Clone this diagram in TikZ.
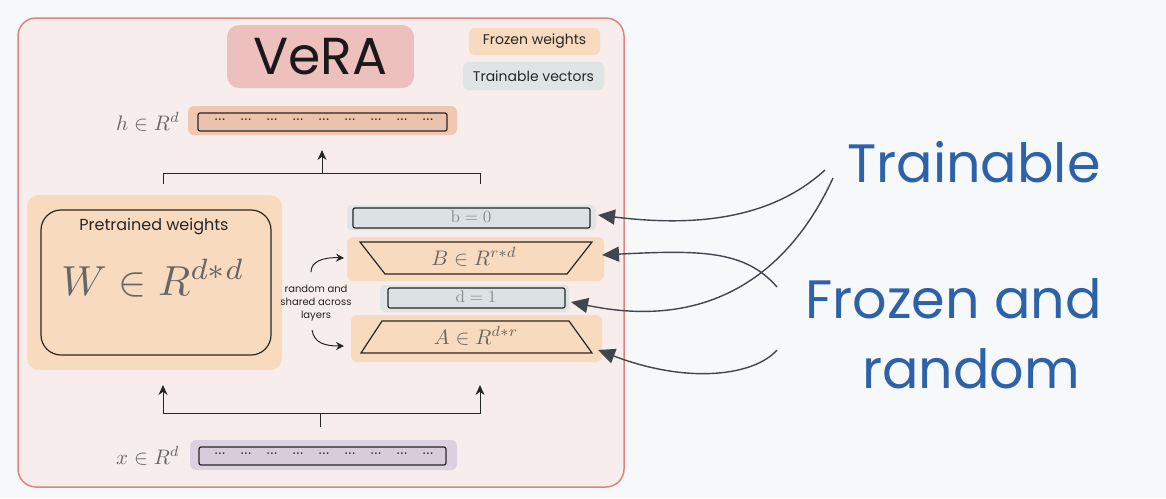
\documentclass[tikz,border=0pt]{standalone}
\usepackage{fontspec}
\newfontfamily\hand{Poppins}
\usetikzlibrary{arrows.meta}
\definecolor{bg}{HTML}{F7F8FA}
\definecolor{panel}{HTML}{F6EDEC}
\definecolor{panelborder}{HTML}{DE8580}
\definecolor{titlefill}{HTML}{EEC0BD}
\definecolor{peach}{HTML}{F8DBBE}
\definecolor{peachhl}{HTML}{F0C8B2}
\definecolor{peachbar}{HTML}{EBC2AC}
\definecolor{grayblue}{HTML}{DFE5E5}
\definecolor{graybar}{HTML}{DCE1E1}
\definecolor{lavhl}{HTML}{DDD0E0}
\definecolor{lavbar}{HTML}{D8CCDA}
\definecolor{inkblue}{HTML}{2D62A8}
\definecolor{arrowgray}{HTML}{40464E}
\definecolor{mathgray}{HTML}{666666}
\definecolor{lightmath}{HTML}{8A8A8A}
\begin{document}
\begin{tikzpicture}[x=1pt,y=-1pt,
  box/.style={inner sep=0pt, outer sep=0pt},
  hl/.style={box, rounded corners=6pt},
  bar/.style={box, draw=black!85, line width=1.2pt, rounded corners=2pt},
  conn/.style={draw=black!85, line width=1pt},
  upar/.style={conn, -{Stealth[length=10pt,width=9pt]}},
  curvar/.style={conn, -{Stealth[length=8pt,width=8pt]}},
  pointer/.style={draw=arrowgray, line width=1.4pt, -{Triangle[length=17pt,width=15pt]}},
  big/.style={text=inkblue, font=\hand\fontsize{54}{60}\selectfont, inner sep=0pt, anchor=base west},
  dots/.style={inner sep=0pt, font=\fontsize{12}{12}\selectfont\bfseries, text=black!85},
  legend/.style={box, rounded corners=5pt, font=\hand\fontsize{14}{16}\selectfont, text=black!85},
  mathlab/.style={inner sep=0pt, text=mathgray, font=\fontsize{10}{12}\selectfont, scale=#1, transform shape},
  lightlab/.style={inner sep=0pt, text=lightmath, font=\fontsize{10}{12}\selectfont, scale=#1, transform shape},
]
\useasboundingbox (0,0) rectangle (1166,498);
\fill[bg] (0,0) rectangle (1166,498);

% panel
\node[box, draw=panelborder, line width=1.5pt, fill=panel, rounded corners=18pt,
      minimum width=606pt, minimum height=469pt] (panel) at (321,252.5) {};

% title and legend
\node[box, fill=titlefill, rounded corners=12pt, minimum width=187pt, minimum height=63pt,
      font=\hand\fontsize{52}{60}\selectfont, text=black!90] (title) at (320.5,56.5) {VeRA};
\node[legend, fill=peach, minimum width=131pt, minimum height=27pt] (lfrozen) at (534.5,41.5) {Frozen weights};
\node[legend, fill=grayblue, minimum width=141pt, minimum height=28pt] (ltrain) at (533.5,76) {Trainable vectors};

% output h
\node[hl, fill=peachhl, minimum width=269pt, minimum height=29pt] (hhl) at (322.5,120.5) {};
\node[bar, fill=peachbar, minimum width=249pt, minimum height=18pt] (hbar) at (322.5,122) {};
\foreach \i in {0,...,8} \node[dots] (hd\i) at ({220+\i*26},120) {...};
\node[mathlab=2.1] (hlab) at (148,122) {$h\in R^{d}$};

% top bracket
\coordinate (tL) at (163,184);
\coordinate (tR) at (480,184);
\coordinate (tM) at (322,173);
\coordinate (hT) at (322,150);
\draw[conn] (tL) -- (tL |- tM) -- (tR |- tM) -- (tR);
\draw[upar] (tM) -- (hT);

% pretrained weights
\node[hl, fill=peach, rounded corners=12pt, minimum width=255pt, minimum height=175pt] (Whl) at (154.5,282.5) {};
\node[box, draw=black!85, line width=1.2pt, rounded corners=20pt, minimum width=230pt, minimum height=145pt] (Wbox) at (156,282.5) {};
\node[font=\hand\fontsize{16}{18}\selectfont, text=black!85, inner sep=0pt] (ptxt) at (154,227) {Pretrained weights};
\node[mathlab=4.2] (Wtxt) at (153,278) {$W\in R^{d*d}$};

% right column
\node[hl, fill=grayblue, rounded corners=4pt, minimum width=249pt, minimum height=25pt] (bhl) at (471.5,217.5) {};
\node[bar, fill=graybar, minimum width=237pt, minimum height=20pt] (bbar) at (471.5,218) {};
\node[lightlab=1.7] (btxt) at (471,217) {$\mathrm{b}=0$};

\node[hl, fill=peach, minimum width=257pt, minimum height=44pt] (Bhl) at (475.5,259) {};
\draw[conn, line width=1.2pt] (360,242) -- (592,242) -- (567,274) -- (385,274) -- cycle;
\node[mathlab=2.1] (Btxt) at (474,257) {$B\in R^{r*d}$};

\node[hl, fill=grayblue, rounded corners=4pt, minimum width=189pt, minimum height=27pt] (dhl) at (474.5,298.5) {};
\node[bar, fill=graybar, minimum width=177pt, minimum height=20pt] (dbar) at (476.5,298) {};
\node[lightlab=1.7] (dtxt) at (476,297) {$\mathrm{d}=1$};

\node[hl, fill=peach, minimum width=251pt, minimum height=47pt] (Ahl) at (476.5,338.5) {};
\draw[conn, line width=1.2pt] (382,321) -- (569,321) -- (592,353) -- (361,353) -- cycle;
\node[mathlab=2.1] (Atxt) at (476,336) {$A\in R^{d*r}$};

% random and shared
\node[align=center, font=\hand\fontsize{10}{13}\selectfont, text=black!85, inner sep=0pt] (rtxt) at (316,303) {random and\\shared across\\layers};
\coordinate (ca1s) at (311,272);
\coordinate (ca1e) at (344,258);
\coordinate (ca2s) at (312,330);
\coordinate (ca2e) at (344,346);
\draw[curvar] (ca1s) .. controls (311,262) and (322,257) .. (ca1e);
\draw[curvar] (ca2s) .. controls (314,343) and (325,346) .. (ca2e);

% bottom bracket
\coordinate (bL) at (163,413);
\coordinate (bR) at (480,413);
\coordinate (bM) at (320,427);
\coordinate (uL) at (163,385);
\coordinate (uR) at (480,385);
\draw[conn, {Stealth[length=10pt,width=9pt]}-{Stealth[length=10pt,width=9pt]}] (uL) -- (bL) -- (bR) -- (uR);
\draw[conn] (bM) -- (bM |- bL);

% input x
\node[hl, fill=lavhl, minimum width=267pt, minimum height=30pt] (xhl) at (323.5,455) {};
\node[bar, fill=lavbar, minimum width=247pt, minimum height=18pt] (xbar) at (322.5,456) {};
\foreach \i in {0,...,8} \node[dots] (xd\i) at ({220+\i*26},454) {...};
\node[mathlab=2.1] (xlab) at (148,456) {$x\in R^{d}$};

% right annotations
\node[big] (trainlab) at (847,182) {Trainable};
\node[big] (frozlab) at (805,318) {Frozen and};
\node[big] (randlab) at (862,388) {random};

\coordinate (s1) at (825,170);
\coordinate (s2) at (833,178);
\coordinate (s3) at (777,287);
\coordinate (s4) at (777,350);
\coordinate (t1) at (598,215);
\coordinate (t2) at (571,302);
\coordinate (t3) at (602,255);
\coordinate (t4) at (598,350);
\draw[pointer] (s1) .. controls (765,225) and (680,225) .. (t1);
\draw[pointer] (s2) .. controls (800,250) and (730,335) .. (t2);
\draw[pointer] (s3) .. controls (745,250) and (700,250) .. (t3);
\draw[pointer] (s4) .. controls (755,375) and (690,385) .. (t4);
\end{tikzpicture}
\end{document}
